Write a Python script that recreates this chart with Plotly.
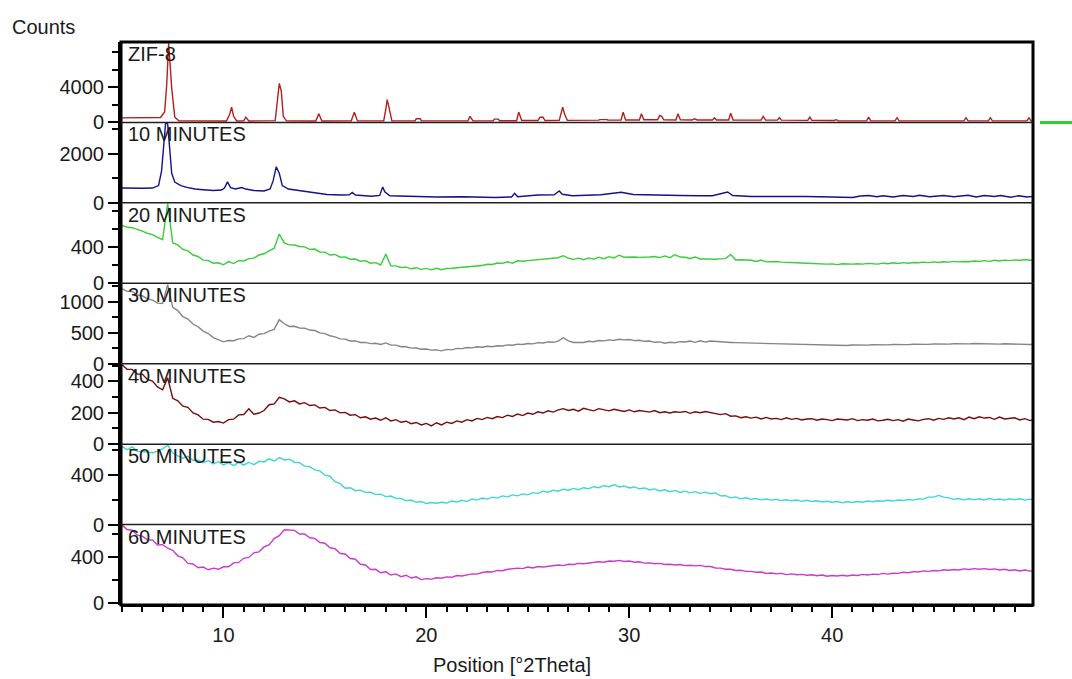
import numpy as np
import plotly.graph_objects as go

# ---------------------------------------------------------------- data
# Step scan used for the amorphous/partially crystalline samples (°2Theta)
SCAN_2THETA = np.round(np.arange(5.0, 50.0001, 0.25), 2)

# ZIF-8 reference pattern (sharp Bragg reflections on a flat background)
ZIF8_2THETA = [5.0, 6.5, 6.9, 7.1, 7.2, 7.3, 7.45, 7.6, 7.8, 10.15, 10.3, 10.4, 10.5, 10.65,
               11.0, 11.1, 11.25, 12.55, 12.65, 12.75, 12.85, 12.95, 13.1, 14.55, 14.7, 14.85,
               16.3, 16.45, 16.6, 17.9, 18.0, 18.07, 18.15, 18.3, 19.45, 19.5, 19.7, 19.75,
               22.05, 22.15, 22.3, 23.3, 23.35, 23.55, 23.6, 24.45, 24.55, 24.7, 25.5, 25.6,
               25.75, 25.85, 26.55, 26.65, 26.72, 26.82, 26.95, 28.5, 28.55, 28.9, 28.95,
               29.6, 29.7, 29.82, 30.5, 30.6, 30.72, 31.4, 31.5, 31.6, 31.7, 32.3, 32.4, 32.52,
               33.1, 33.2, 33.35, 34.1, 34.2, 34.3, 34.9, 35.0, 35.12, 36.5, 36.6, 36.72,
               37.3, 37.4, 37.5, 38.8, 38.9, 39.0, 40.1, 40.2, 40.3, 41.7, 41.8, 41.9,
               43.1, 43.2, 43.3, 46.5, 46.6, 46.7, 47.7, 47.8, 47.9, 49.6, 49.7, 49.8, 50.0]
ZIF8_COUNTS = [520, 530, 560, 1200, 4200, 9050, 3900, 600, 180, 160, 900, 1750, 700, 170,
               180, 600, 170, 200, 2200, 4450, 3600, 700, 180, 170, 1000, 170,
               180, 1180, 180, 200, 1500, 2600, 1800, 200, 180, 420, 420, 180,
               180, 700, 180, 200, 380, 380, 200, 200, 1180, 220, 220, 600,
               600, 220, 240, 1000, 1750, 900, 240, 260, 320, 320, 260,
               280, 1180, 280, 280, 990, 300, 300, 800, 690, 300, 280, 990, 300,
               280, 420, 280, 280, 540, 280, 280, 1060, 280, 260, 690, 260,
               260, 540, 260, 240, 610, 240, 220, 310, 200, 180, 600, 180,
               180, 540, 180, 180, 540, 180, 180, 540, 180, 180, 540, 180, 180]

# 10 minutes of synthesis
MIN10_2THETA = [5.0, 5.5, 6.0, 6.5, 6.8, 6.95, 7.05, 7.15, 7.25, 7.35, 7.45, 7.6, 7.9, 8.2,
                8.6, 9.0, 9.5, 9.9, 10.05, 10.2, 10.35, 10.6, 10.9, 11.1, 11.5, 12.0, 12.3,
                12.45, 12.6, 12.75, 12.9, 13.2, 13.7, 14.5, 15.1, 15.8, 16.2, 16.35, 16.5,
                17.3, 17.7, 17.85, 17.95, 18.2, 19.4, 20.5, 21.8, 22.6, 23.4, 24.2, 24.35,
                24.5, 25.5, 26.3, 26.55, 26.7, 27.2, 28.6, 29.6, 30.2, 30.6, 31.75, 32.5,
                33.5, 34.1, 34.85, 35.1, 36.0, 37.0, 38.7, 40.0, 41.0, 41.4, 41.8, 42.2,
                42.5, 43.0, 43.5, 44.0, 44.3, 44.8, 45.5, 46.0, 46.7, 47.1, 47.5, 48.0,
                48.3, 48.8, 49.2, 49.6, 50.0]
MIN10_COUNTS = [600, 580, 590, 600, 700, 1300, 2400, 3250, 3200, 2000, 1200, 840, 700, 630,
                560, 530, 500, 520, 600, 850, 620, 560, 620, 560, 500, 480, 560,
                900, 1460, 1200, 700, 560, 500, 430, 340, 320, 330, 420, 320,
                270, 300, 640, 450, 290, 250, 240, 250, 230, 220, 240, 390,
                250, 320, 330, 480, 350, 290, 330, 430, 340, 330, 330, 300,
                290, 290, 440, 300, 260, 270, 260, 240, 220, 280, 300, 250,
                290, 240, 300, 260, 310, 250, 300, 250, 310, 240, 300, 260,
                300, 230, 290, 240, 270]

# Samples on the common step scan
MIN20_COUNTS = [640, 618, 614, 590, 575, 552, 538, 508, 482, 880, 446, 424,
                374, 358, 312, 296, 256, 250, 222, 226, 204, 240, 218, 250,
                246, 272, 278, 312, 326, 358, 388, 543, 446, 424, 422, 406,
                402, 374, 378, 346, 344, 312, 318, 288, 292, 266, 268, 244,
                250, 222, 228, 202, 322, 194, 192, 174, 178, 160, 172, 154,
                164, 148, 166, 150, 164, 166, 170, 174, 186, 184, 192, 196,
                210, 208, 224, 220, 238, 222, 248, 244, 250, 256, 262, 272,
                276, 280, 282, 305, 276, 264, 278, 260, 280, 266, 288, 272,
                294, 280, 310, 288, 292, 290, 286, 284, 290, 296, 284, 302,
                282, 316, 290, 288, 274, 290, 268, 270, 266, 266, 270, 272,
                318, 258, 260, 256, 254, 240, 256, 236, 240, 240, 234, 230,
                228, 228, 224, 222, 218, 216, 212, 212, 214, 206, 216, 210,
                212, 216, 212, 220, 216, 212, 222, 216, 226, 218, 228, 222,
                230, 226, 234, 228, 236, 230, 238, 234, 242, 236, 240, 238,
                246, 240, 250, 242, 254, 246, 256, 250, 258, 252, 262, 254,
                258]

MIN30_COUNTS = [1215, 1170, 1168, 1110, 1098, 1050, 1028, 980, 972, 1277, 912, 858,
                762, 722, 642, 598, 528, 488, 422, 392, 354, 374, 372, 402,
                406, 452, 424, 476, 486, 528, 554, 713, 646, 602, 606, 578,
                574, 544, 536, 498, 486, 452, 434, 402, 398, 368, 368, 344,
                344, 324, 330, 312, 336, 300, 300, 274, 274, 252, 254, 234,
                238, 220, 224, 208, 232, 224, 248, 244, 262, 256, 274, 266,
                282, 274, 290, 286, 304, 298, 316, 310, 326, 320, 340, 334,
                352, 346, 366, 420, 370, 344, 344, 344, 362, 356, 376, 370,
                386, 378, 396, 386, 392, 374, 380, 362, 366, 346, 352, 332,
                346, 339, 356, 350, 366, 346, 370, 350, 366, 360, 356, 338,
                344, 340, 338, 332, 332, 324, 326, 320, 322, 316, 318, 312,
                314, 308, 310, 304, 306, 300, 304, 298, 302, 296, 300, 294,
                302, 298, 304, 300, 306, 302, 308, 304, 310, 306, 312, 308,
                314, 310, 316, 312, 318, 314, 320, 316, 322, 318, 324, 320,
                326, 322, 328, 312, 320, 316, 322, 318, 318, 312, 316, 310,
                312]

MIN40_COUNTS = [505, 476, 476, 446, 446, 412, 402, 364, 346, 422, 292, 276,
                242, 234, 199, 186, 159, 158, 140, 144, 134, 156, 159, 186,
                189, 225, 190, 198, 214, 251, 256, 298, 288, 269, 276, 256,
                264, 246, 250, 230, 234, 214, 218, 199, 202, 184, 188, 168,
                174, 159, 166, 152, 168, 148, 156, 139, 146, 130, 138, 122,
                132, 116, 136, 122, 140, 132, 148, 140, 156, 148, 164, 156,
                170, 162, 176, 169, 184, 176, 192, 182, 198, 190, 206, 198,
                212, 204, 218, 226, 214, 222, 210, 228, 220, 212, 226, 218,
                212, 222, 216, 208, 218, 206, 214, 210, 204, 214, 200, 206,
                198, 206, 202, 208, 196, 206, 200, 208, 200, 194, 188, 194,
                178, 180, 168, 174, 166, 172, 160, 170, 160, 164, 156, 168,
                158, 164, 154, 160, 162, 152, 160, 156, 150, 160, 158, 154,
                162, 150, 156, 152, 160, 148, 152, 158, 150, 156, 146, 160,
                154, 148, 158, 162, 152, 164, 158, 168, 160, 168, 156, 172,
                162, 174, 166, 170, 158, 172, 160, 166, 168, 154, 162, 150,
                158]

MIN50_COUNTS = [632, 606, 628, 592, 590, 588, 580, 594, 612, 642, 580, 556,
                536, 552, 520, 520, 500, 518, 490, 508, 482, 500, 476, 502,
                480, 504, 484, 511, 506, 531, 514, 541, 522, 528, 504, 501,
                472, 468, 442, 434, 399, 391, 346, 331, 294, 298, 274, 278,
                260, 261, 242, 246, 226, 231, 212, 212, 192, 198, 180, 186,
                170, 178, 172, 180, 174, 190, 182, 196, 188, 206, 198, 214,
                206, 222, 214, 232, 224, 240, 232, 248, 240, 258, 252, 270,
                262, 278, 270, 286, 278, 292, 282, 298, 290, 306, 298, 314,
                306, 322, 304, 312, 296, 304, 289, 296, 280, 288, 272, 281,
                266, 276, 260, 270, 256, 266, 252, 262, 249, 256, 232, 234,
                216, 224, 208, 216, 204, 210, 200, 206, 198, 204, 194, 200,
                192, 198, 188, 196, 186, 192, 182, 188, 180, 186, 176, 184,
                178, 186, 180, 190, 184, 192, 188, 196, 190, 198, 194, 202,
                198, 208, 206, 222, 222, 236, 222, 216, 204, 210, 200, 208,
                200, 208, 198, 210, 200, 206, 198, 208, 200, 208, 198, 206,
                203]

MIN60_COUNTS = [678, 640, 634, 590, 582, 550, 548, 505, 508, 476, 458, 410,
                392, 344, 338, 306, 312, 288, 302, 292, 314, 314, 348, 352,
                388, 396, 436, 444, 488, 506, 560, 586, 638, 632, 632, 600,
                602, 568, 562, 526, 520, 480, 472, 430, 426, 386, 380, 336,
                330, 290, 292, 262, 270, 242, 252, 228, 240, 216, 226, 202,
                210, 206, 218, 214, 226, 222, 238, 234, 246, 252, 250, 264,
                270, 268, 282, 280, 292, 296, 302, 298, 312, 304, 316, 312,
                318, 322, 330, 324, 336, 334, 344, 340, 348, 352, 358, 354,
                364, 362, 370, 360, 364, 354, 358, 346, 348, 340, 344, 334,
                336, 330, 334, 324, 328, 322, 326, 316, 316, 304, 302, 292,
                292, 282, 284, 274, 274, 266, 268, 256, 260, 252, 256, 246,
                252, 244, 248, 240, 244, 236, 242, 232, 238, 234, 240, 234,
                242, 238, 248, 242, 250, 246, 256, 250, 258, 256, 266, 262,
                272, 268, 278, 274, 282, 278, 288, 284, 290, 286, 296, 290,
                298, 292, 298, 290, 296, 286, 292, 282, 288, 278, 286, 276,
                280]

PANEL_LABELS = ["ZIF-8", "10 MINUTES", "20 MINUTES", "30 MINUTES",
                "40 MINUTES", "50 MINUTES", "60 MINUTES"]
X_TICKS = [10, 20, 30, 40]

# ---------------------------------------------------------------- styling
COLORS = ["#B81C1C", "#12128C", "#3ACC3A", "#858585", "#760C0C", "#3CD6D6", "#CC3ACC"]
Y_RANGES = [[0, 9200], [0, 3260], [0, 888], [0, 1300], [0, 512], [0, 650], [-20, 683]]
Y_LABELLED = [[0, 4000], [0, 2000], [0, 400], [0, 500, 1000], [0, 200, 400], [0, 400], [0, 400]]
Y_MINOR_STEP = [2000, 1000, 200, 250, 100, 200, 200]

FONT = "Liberation Sans, Arial, sans-serif"
TEXT_COLOR = "#1a1a1a"
N = len(PANEL_LABELS)

series = [
    (ZIF8_2THETA, ZIF8_COUNTS),
    (MIN10_2THETA, MIN10_COUNTS),
    (SCAN_2THETA, MIN20_COUNTS),
    (SCAN_2THETA, MIN30_COUNTS),
    (SCAN_2THETA, MIN40_COUNTS),
    (SCAN_2THETA, MIN50_COUNTS),
    (SCAN_2THETA, MIN60_COUNTS),
]

fig = go.Figure()
for i, (xs, ys) in enumerate(series):
    yname = "y" if i == 0 else f"y{i + 1}"
    fig.add_trace(go.Scatter(
        x=xs, y=ys, mode="lines", xaxis="x", yaxis=yname,
        line=dict(color=COLORS[i], width=1.4), name=PANEL_LABELS[i],
        hoverinfo="skip",
    ))

layout = dict(
    width=1072, height=679,
    margin=dict(l=121, r=39, t=42, b=74, pad=0),
    paper_bgcolor="white", plot_bgcolor="white",
    showlegend=False,
    font=dict(family=FONT, size=20, color=TEXT_COLOR),
    xaxis=dict(
        range=[4.95, 49.9], anchor="free", position=0,
        tickmode="array", tickvals=X_TICKS,
        ticks="outside", ticklen=11, tickwidth=1.5, tickcolor="black",
        minor=dict(tickmode="linear", tick0=0, dtick=1, ticks="outside",
                   ticklen=5, tickwidth=1.5, tickcolor="black", showgrid=False),
        showline=True, linewidth=3, linecolor="black",
        showgrid=False, zeroline=False,
        tickfont=dict(family=FONT, size=20, color=TEXT_COLOR),
    ),
)

for i in range(N):
    key = "yaxis" if i == 0 else f"yaxis{i + 1}"
    layout[key] = dict(
        domain=[1 - (i + 1) / N, 1 - i / N],
        range=Y_RANGES[i], anchor="x",
        tickmode="array", tickvals=Y_LABELLED[i],
        ticks="outside", ticklen=10, tickwidth=1.5, tickcolor="black",
        minor=dict(tickmode="linear", tick0=0, dtick=Y_MINOR_STEP[i], ticks="outside",
                   ticklen=6, tickwidth=1.5, tickcolor="black", showgrid=False),
        showline=True, linewidth=3, linecolor="black",
        showgrid=False, zeroline=False,
        tickfont=dict(family=FONT, size=20, color=TEXT_COLOR),
    )

fig.update_layout(**layout)

# Outer frame, separators between stacked patterns and the marker on the right
shapes = [dict(type="rect", xref="paper", yref="paper", x0=0, x1=1, y0=0, y1=1,
               line=dict(color="black", width=3), layer="above")]
for k in range(1, N):
    shapes.append(dict(type="line", xref="paper", yref="paper", x0=0, x1=1,
                       y0=k / N, y1=k / N, line=dict(color="#202020", width=1.5),
                       layer="above"))
shapes.append(dict(type="line", xref="paper", yref="paper", x0=1.0077, x1=1.05,
                   y0=(N - 1) / N, y1=(N - 1) / N, line=dict(color="#33CC33", width=3)))
fig.update_layout(shapes=shapes)

annotations = []
for i, label in enumerate(PANEL_LABELS):
    yref = "y domain" if i == 0 else f"y{i + 1} domain"
    annotations.append(dict(
        text=label, xref="paper", x=0, xanchor="left", xshift=5,
        yref=yref, y=1, yanchor="top", yshift=1, showarrow=False,
        font=dict(family=FONT, size=20, color=TEXT_COLOR),
    ))
annotations.append(dict(text="Counts", xref="paper", x=-0.1217, xanchor="left",
                        yref="paper", y=1.027, yanchor="middle", showarrow=False,
                        font=dict(family=FONT, size=20, color=TEXT_COLOR)))
annotations.append(dict(text="Position [°2Theta]", xref="paper", x=0.4285, xanchor="center",
                        yref="paper", y=-0.1066, yanchor="middle", showarrow=False,
                        font=dict(family=FONT, size=20, color=TEXT_COLOR)))
fig.update_layout(annotations=annotations)

fig.write_html("out.html")
